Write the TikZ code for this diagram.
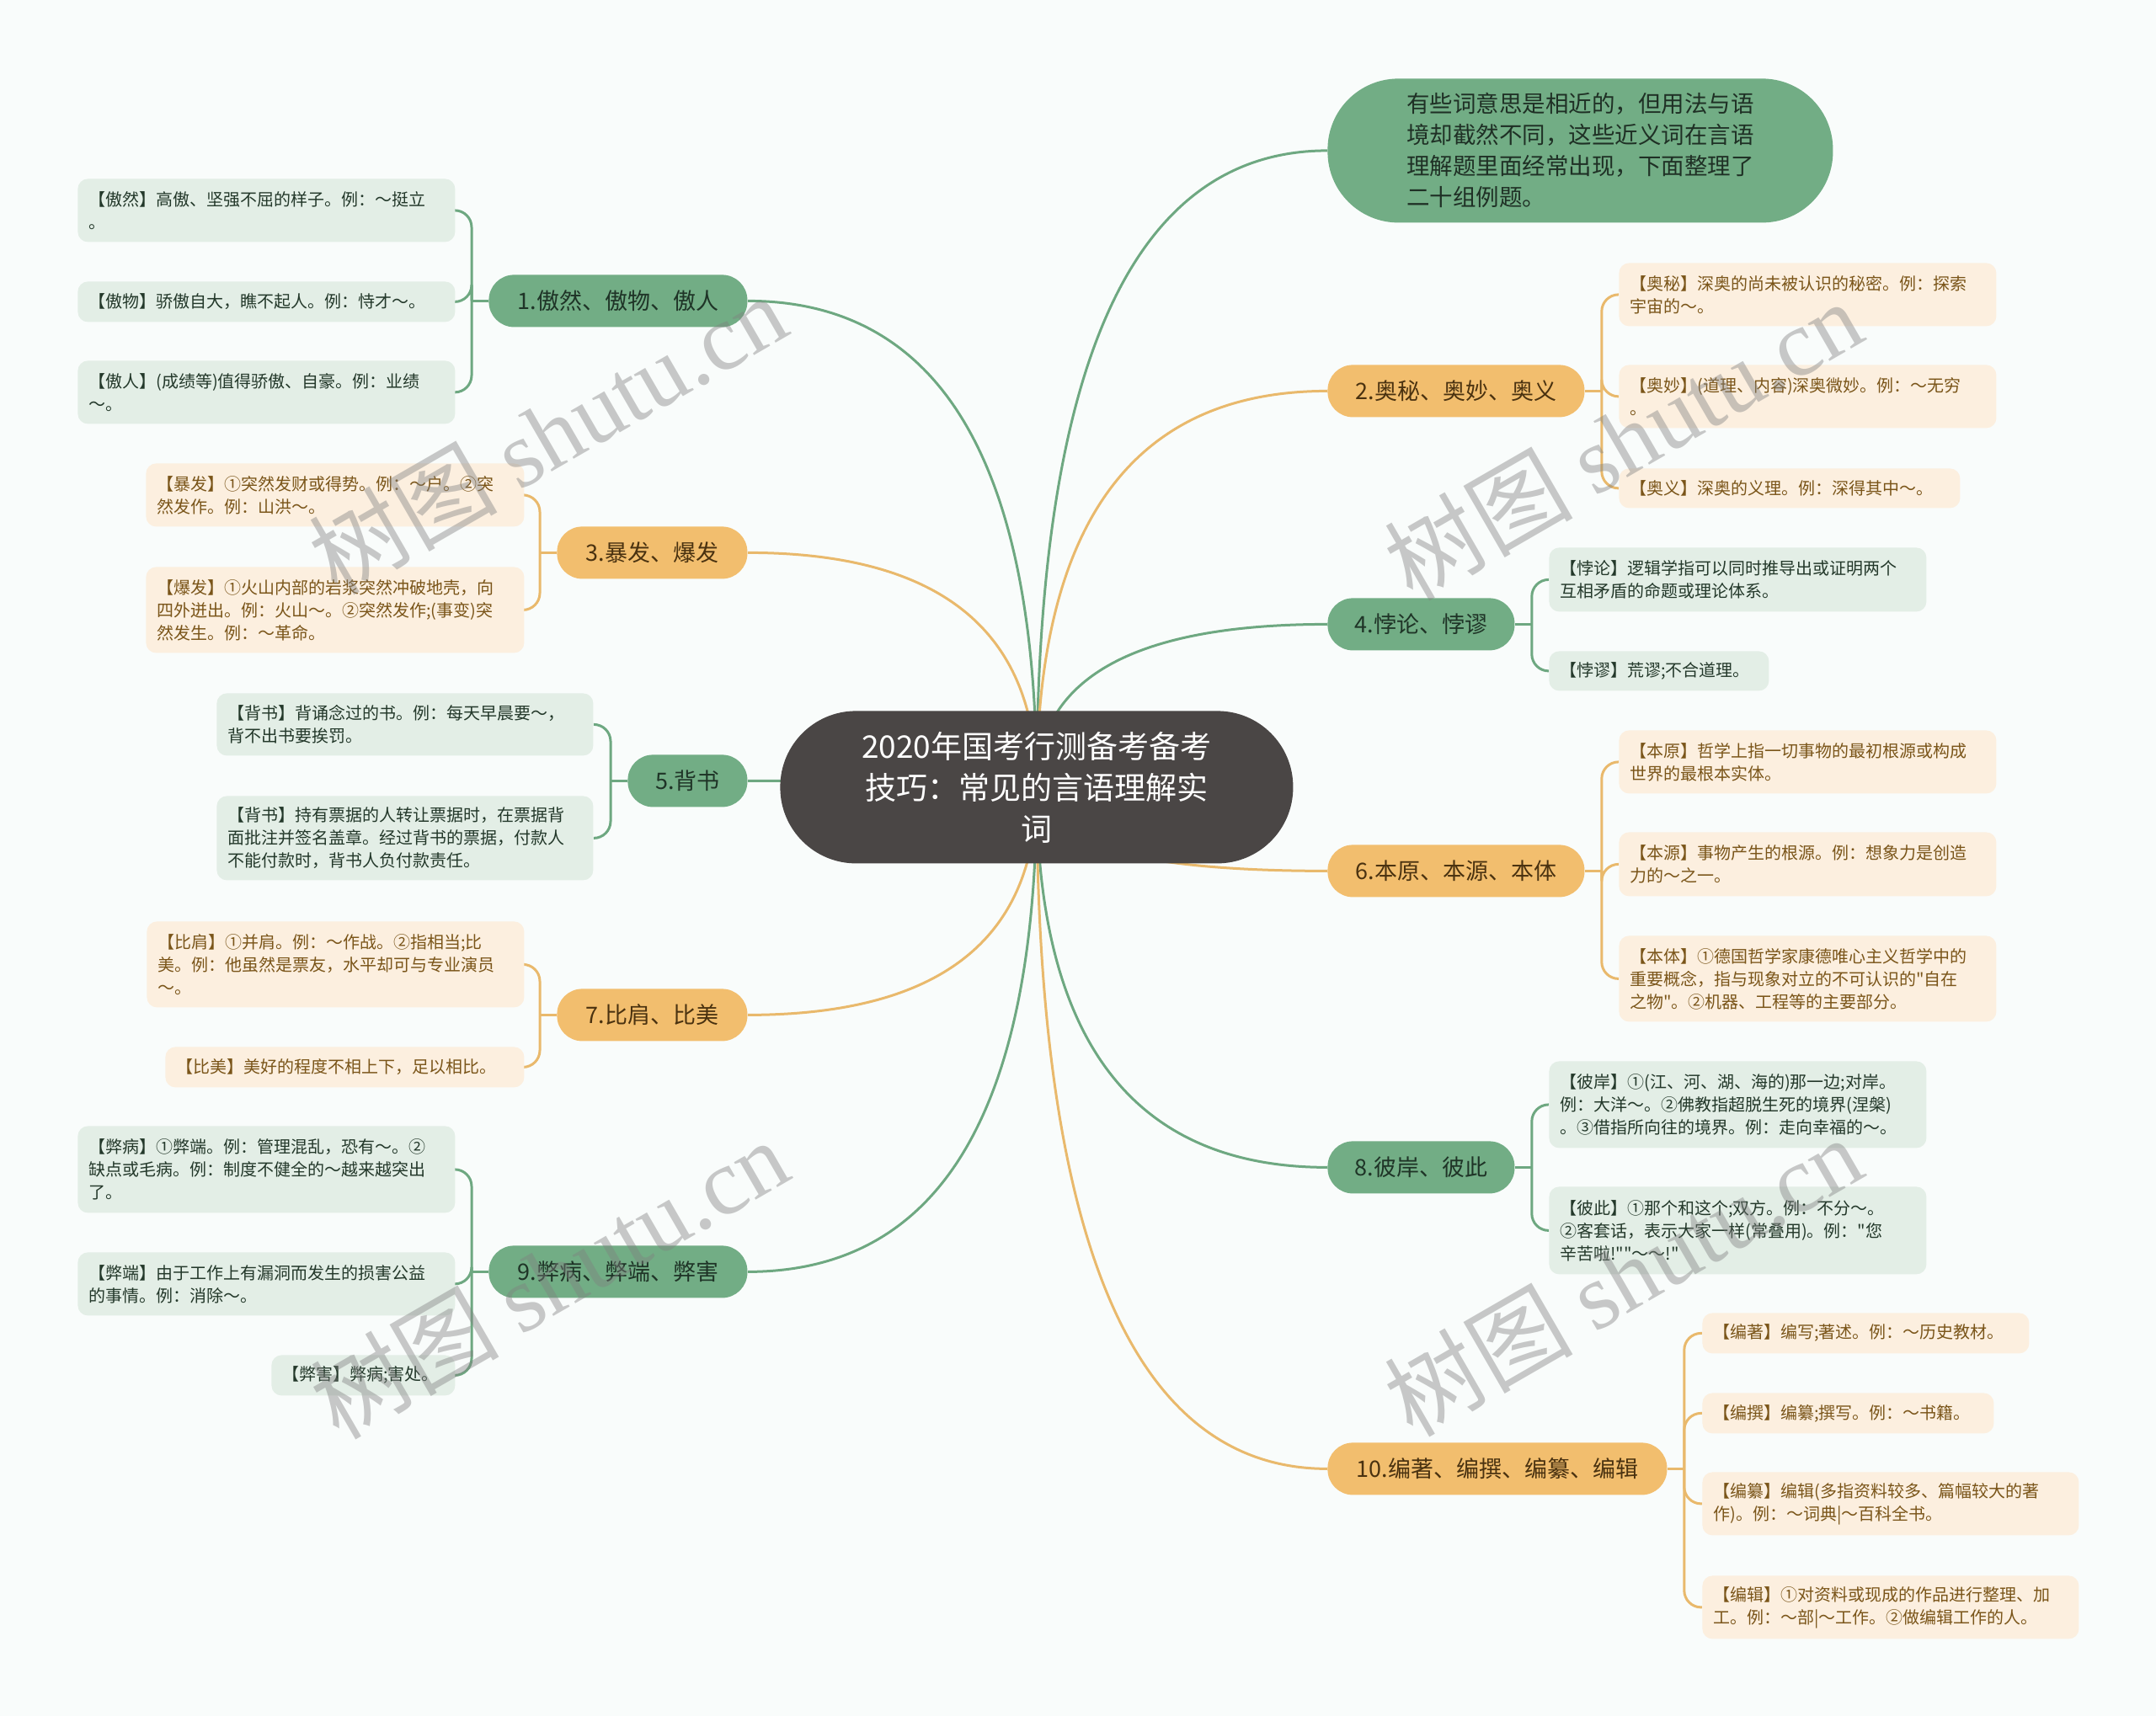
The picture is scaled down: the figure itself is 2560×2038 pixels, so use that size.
\documentclass[tikz,border=0pt]{standalone}
\usepackage{fontspec}
\setmainfont{Noto Sans CJK SC}
\newfontfamily\cjkfont{Noto Sans CJK SC}
\newfontfamily\wmlatin{Liberation Serif}
\usetikzlibrary{calc,backgrounds}
\definecolor{bgc}{HTML}{F9FCFB}
\definecolor{gmid}{HTML}{72AD85}
\definecolor{omid}{HTML}{F2BE6E}
\definecolor{glinec}{HTML}{6EA881}
\definecolor{olinec}{HTML}{E9B96C}
\definecolor{gleaffill}{HTML}{E3EEE6}
\definecolor{oleaffill}{HTML}{FCEFDF}
\definecolor{gleaftext}{HTML}{23382A}
\definecolor{oleaftext}{HTML}{7A5519}
\definecolor{gbrtext}{HTML}{1F3427}
\definecolor{obrtext}{HTML}{4A3210}
\definecolor{introtext}{HTML}{1F3025}
\definecolor{centerfill}{HTML}{4A4645}
\pgfdeclarelayer{bglayer}
\pgfdeclarelayer{lines}
\pgfdeclarelayer{wmlayer}
\pgfsetlayers{bglayer,lines,main,wmlayer}
\tikzset{
  leafbase/.style={anchor=north west, rounded corners=6pt, inner xsep=6.5pt, inner ysep=2pt, align=left, font=\cjkfont\fontsize{10pt}{13.5pt}\selectfont},
  gleaf/.style={leafbase, fill=gleaffill, text=gleaftext},
  oleaf/.style={leafbase, fill=oleaffill, text=oleaftext},
  brbase/.style={anchor=north west, rounded corners=15pt, inner sep=0pt, font=\cjkfont\fontsize{13.5pt}{16pt}\selectfont},
  gbr/.style={brbase, fill=gmid, text=gbrtext},
  obr/.style={brbase, fill=omid, text=obrtext},
  gline/.style={draw=glinec, line width=1.5pt},
  oline/.style={draw=olinec, line width=1.5pt},
  bracket/.style={rounded corners=10pt},
  wmark/.style={font=\cjkfont\fontsize{56pt}{60pt}\selectfont, text=black!50, opacity=0.42, rotate=30}
}
\newcommand\leafnode[7]{%
  \pgfmathsetlengthmacro\lfw{(#5-#3)*0.5pt}%
  \pgfmathsetlengthmacro\lfh{(#6-#4)*0.5pt}%
  \pgfmathsetlengthmacro\lftw{(#5-#3)*0.5pt-13pt}%
  \node[#2, minimum width=\lfw, minimum height=\lfh, text width=\lftw] (#1) at (#3,#4) {#7};}
\newcommand\branchnode[7]{%
  \pgfmathsetlengthmacro\lfw{(#5-#3)*0.5pt}%
  \pgfmathsetlengthmacro\lfh{(#6-#4)*0.5pt}%
  \node[#2, minimum width=\lfw, minimum height=\lfh] (#1) at (#3,#4) {#7};}
\newcommand\mainconn[2]{%
  \draw[#1] (C.center) .. controls ($(C.center)!0.667!(C.center |- #2)$) and ($(#2)!0.667!(C.center |- #2)$) .. (#2);}
\begin{document}
\begin{tikzpicture}[x=0.5pt,y=-0.5pt]
\useasboundingbox (0,0) rectangle (2560,2038);
\begin{pgfonlayer}{bglayer}
  \fill[bgc] (0,0) rectangle (2560,2038);
\end{pgfonlayer}

% central and intro
\node[anchor=north west, fill=centerfill, rounded corners=45pt, minimum width=304.5pt, minimum height=90.5pt, align=center, text=white, font=\cjkfont\fontsize{18.5pt}{24.5pt}\selectfont] (C) at (926,844) {2020年国考行测备考备考\\技巧：常见的言语理解实\\词};
\node[anchor=north west, fill=gmid, rounded corners=42pt, minimum width=300pt, minimum height=85.5pt, align=left, text=introtext, font=\cjkfont\fontsize{13.75pt}{18.5pt}\selectfont] (I) at (1576,93) {有些词意思是相近的，但用法与语\\境却截然不同，这些近义词在言语\\理解题里面经常出现，下面整理了\\二十组例题。};

% branches
\branchnode{B1}{gbr}{580}{326}{887}{388}{1.傲然、傲物、傲人}
\branchnode{B2}{obr}{1576}{433}{1881}{495}{2.奥秘、奥妙、奥义}
\branchnode{B3}{obr}{661}{625}{887}{687}{3.暴发、爆发}
\branchnode{B4}{gbr}{1576}{710}{1798}{772}{4.悖论、悖谬}
\branchnode{B5}{gbr}{745}{896}{887}{958}{5.背书}
\branchnode{B6}{obr}{1576}{1003}{1881}{1065}{6.本原、本源、本体}
\branchnode{B7}{obr}{661}{1174}{887}{1236}{7.比肩、比美}
\branchnode{B8}{gbr}{1576}{1355}{1798}{1417}{8.彼岸、彼此}
\branchnode{B9}{gbr}{580}{1479}{887}{1541}{9.弊病、弊端、弊害}
\branchnode{B10}{obr}{1576}{1713}{1979}{1775}{10.编著、编撰、编纂、编辑}

% leaves group 1
\leafnode{L1a}{gleaf}{92}{212}{540}{287}{【傲然】高傲、坚强不屈的样子。例：～挺立\\。}
\leafnode{L1b}{gleaf}{92}{334}{540}{382}{【傲物】骄傲自大，瞧不起人。例：恃才～。}
\leafnode{L1c}{gleaf}{92}{428}{540}{503}{【傲人】(成绩等)值得骄傲、自豪。例：业绩\\～。}
% group 3
\leafnode{L3a}{oleaf}{173}{550}{622}{625}{【暴发】①突然发财或得势。例：～户。②突\\然发作。例：山洪～。}
\leafnode{L3b}{oleaf}{173}{673}{622}{775}{【爆发】①火山内部的岩浆突然冲破地壳，向\\四外迸出。例：火山～。②突然发作;(事变)突\\然发生。例：～革命。}
% group 5
\leafnode{L5a}{gleaf}{257}{823}{704}{897}{【背书】背诵念过的书。例：每天早晨要～，\\背不出书要挨罚。}
\leafnode{L5b}{gleaf}{257}{945}{704}{1045}{【背书】持有票据的人转让票据时，在票据背\\面批注并签名盖章。经过背书的票据，付款人\\不能付款时，背书人负付款责任。}
% group 7
\leafnode{L7a}{oleaf}{174}{1094}{622}{1196}{【比肩】①并肩。例：～作战。②指相当;比\\美。例：他虽然是票友，水平却可与专业演员\\～。}
\leafnode{L7b}{oleaf}{196}{1243}{622}{1291}{【比美】美好的程度不相上下，足以相比。}
% group 9
\leafnode{L9a}{gleaf}{92}{1337}{540}{1440}{【弊病】①弊端。例：管理混乱，恐有～。②\\缺点或毛病。例：制度不健全的～越来越突出\\了。}
\leafnode{L9b}{gleaf}{92}{1487}{540}{1562}{【弊端】由于工作上有漏洞而发生的损害公益\\的事情。例：消除～。}
\leafnode{L9c}{gleaf}{322}{1609}{540}{1657}{【弊害】弊病;害处。}
% group 2
\leafnode{L2a}{oleaf}{1922}{312}{2370}{387}{【奥秘】深奥的尚未被认识的秘密。例：探索\\宇宙的～。}
\leafnode{L2b}{oleaf}{1922}{433}{2370}{508}{【奥妙】(道理、内容)深奥微妙。例：～无穷\\。}
\leafnode{L2c}{oleaf}{1922}{556}{2327}{603}{【奥义】深奥的义理。例：深得其中～。}
% group 4
\leafnode{L4a}{gleaf}{1839}{650}{2287}{726}{【悖论】逻辑学指可以同时推导出或证明两个\\互相矛盾的命题或理论体系。}
\leafnode{L4b}{gleaf}{1839}{773}{2100}{820}{【悖谬】荒谬;不合道理。}
% group 6
\leafnode{L6a}{oleaf}{1922}{867}{2370}{942}{【本原】哲学上指一切事物的最初根源或构成\\世界的最根本实体。}
\leafnode{L6b}{oleaf}{1922}{988}{2370}{1064}{【本源】事物产生的根源。例：想象力是创造\\力的～之一。}
\leafnode{L6c}{oleaf}{1922}{1111}{2370}{1213}{【本体】①德国哲学家康德唯心主义哲学中的\\重要概念，指与现象对立的不可认识的"自在\\之物"。②机器、工程等的主要部分。}
% group 8
\leafnode{L8a}{gleaf}{1839}{1260}{2287}{1363}{【彼岸】①(江、河、湖、海的)那一边;对岸。\\例：大洋～。②佛教指超脱生死的境界(涅槃)\\。③借指所向往的境界。例：走向幸福的～。}
\leafnode{L8b}{gleaf}{1839}{1409}{2287}{1513}{【彼此】①那个和这个;双方。例：不分～。\\②客套话，表示大家一样(常叠用)。例："您\\辛苦啦!""～～!"}
% group 10
\leafnode{L10a}{oleaf}{2021}{1559}{2409}{1607}{【编著】编写;著述。例：～历史教材。}
\leafnode{L10b}{oleaf}{2021}{1654}{2367}{1702}{【编撰】编纂;撰写。例：～书籍。}
\leafnode{L10c}{oleaf}{2021}{1748}{2468}{1823}{【编纂】编辑(多指资料较多、篇幅较大的著\\作)。例：～词典|～百科全书。}
\leafnode{L10d}{oleaf}{2021}{1871}{2468}{1946}{【编辑】①对资料或现成的作品进行整理、加\\工。例：～部|～工作。②做编辑工作的人。}

% bracket joints
\coordinate (k1) at ($(B1.west)+(-20,0)$);
\coordinate (k3) at ($(B3.west)+(-20,0)$);
\coordinate (k5) at ($(B5.west)+(-20,0)$);
\coordinate (k7) at ($(B7.west)+(-20,0)$);
\coordinate (k9) at ($(B9.west)+(-20,0)$);
\coordinate (k2) at ($(B2.east)+(20,0)$);
\coordinate (k4) at ($(B4.east)+(20,0)$);
\coordinate (k6) at ($(B6.east)+(20,0)$);
\coordinate (k8) at ($(B8.east)+(20,0)$);
\coordinate (k10) at ($(B10.east)+(20,0)$);

\begin{pgfonlayer}{lines}
  \mainconn{gline}{I.west}
  \mainconn{gline}{B1.east}
  \mainconn{oline}{B2.west}
  \mainconn{oline}{B3.east}
  \mainconn{gline}{B4.west}
  \mainconn{gline}{B5.east}
  \mainconn{oline}{B6.west}
  \mainconn{oline}{B7.east}
  \mainconn{gline}{B8.west}
  \mainconn{gline}{B9.east}
  \mainconn{oline}{B10.west}
  % group 1
  \draw[gline] (B1.west) -- (k1);
  \draw[gline, bracket] (L1a.east) -| (k1) |- (L1c.east);
  \draw[gline, bracket] (L1b.east) -| (k1);
  % group 3
  \draw[oline] (B3.west) -- (k3);
  \draw[oline, bracket] (L3a.east) -| (k3) |- (L3b.east);
  % group 5
  \draw[gline] (B5.west) -- (k5);
  \draw[gline, bracket] (L5a.east) -| (k5) |- (L5b.east);
  % group 7
  \draw[oline] (B7.west) -- (k7);
  \draw[oline, bracket] (L7a.east) -| (k7) |- (L7b.east);
  % group 9
  \draw[gline] (B9.west) -- (k9);
  \draw[gline, bracket] (L9a.east) -| (k9) |- (L9c.east);
  \draw[gline, bracket] (L9b.east) -| (k9);
  % group 2
  \draw[oline] (B2.east) -- (k2);
  \draw[oline, bracket] (L2a.west) -| (k2) |- (L2c.west);
  \draw[oline, bracket] (L2b.west) -| (k2);
  % group 4
  \draw[gline] (B4.east) -- (k4);
  \draw[gline, bracket] (L4a.west) -| (k4) |- (L4b.west);
  % group 6
  \draw[oline] (B6.east) -- (k6);
  \draw[oline, bracket] (L6a.west) -| (k6) |- (L6c.west);
  \draw[oline, bracket] (L6b.west) -| (k6);
  % group 8
  \draw[gline] (B8.east) -- (k8);
  \draw[gline, bracket] (L8a.west) -| (k8) |- (L8b.west);
  % group 10
  \draw[oline] (B10.east) -- (k10);
  \draw[oline, bracket] (L10a.west) -| (k10) |- (L10d.west);
  \draw[oline, bracket] (L10b.west) -| (k10);
  \draw[oline, bracket] (L10c.west) -| (k10);
\end{pgfonlayer}

\begin{pgfonlayer}{wmlayer}
  \node[wmark] (w1) at (650,515) {树图 {\wmlatin shutu.cn}};
  \node[wmark] (w2) at (1927,522) {树图 {\wmlatin shutu.cn}};
  \node[wmark] (w3) at (652,1518) {树图 {\wmlatin shutu.cn}};
  \node[wmark] (w4) at (1927,1515) {树图 {\wmlatin shutu.cn}};
\end{pgfonlayer}
\end{tikzpicture}
\end{document}
